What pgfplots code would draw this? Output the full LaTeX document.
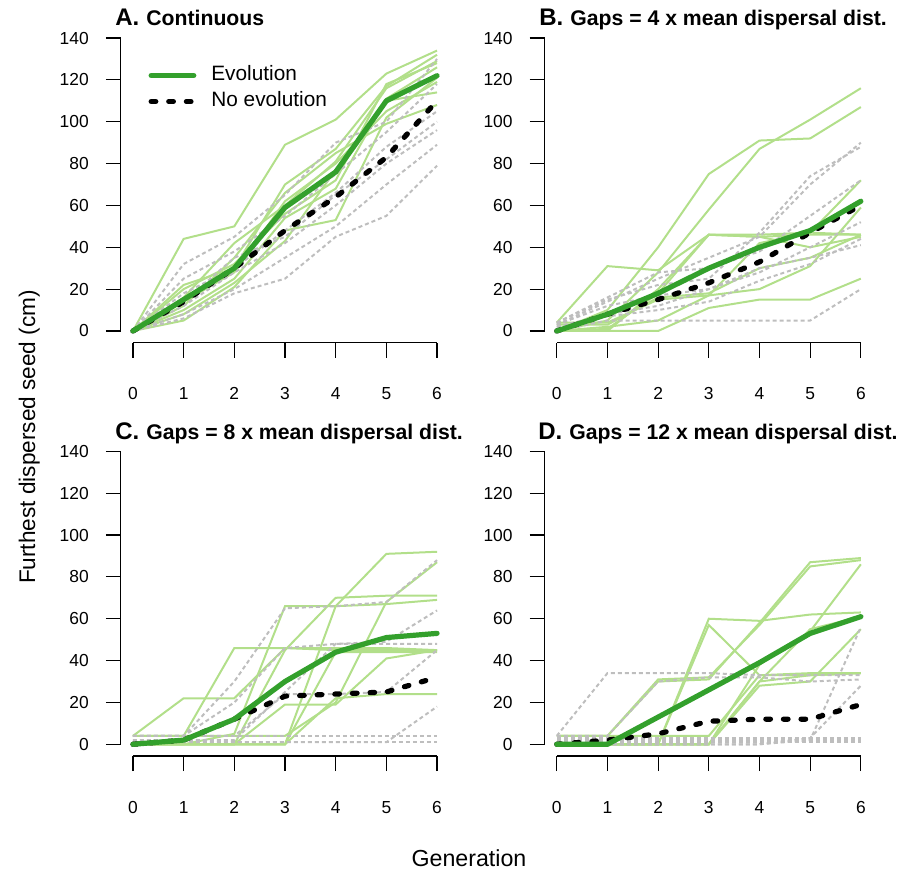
\documentclass[border=0pt]{standalone}
\usepackage{fontspec}
\setmainfont{Liberation Sans}
\usepackage{pgfplots}
\pgfplotsset{compat=1.18}
\usepackage{pgfplotstable}

\definecolor{evogreen}{HTML}{33A02C}
\definecolor{repgreen}{HTML}{B2DF8A}
\definecolor{repgray}{HTML}{BEBEBE}

% columns: generation, 9 evolving replicates, 7 non-evolving replicates, the two means
\pgfplotstableread{
gen g1  g2  g3  g4  g5  g6  g7  g8  g9  d1  d2  d3  d4  d5  d6  d7  evo noevo
0   0   0   0   0   0   0   0   0   0   0   0   0   0   0   0   0   0   0
1   44  22  16  10  5   12  8   20  14  32  25  18  12  8   6   14  15  14
2   50  30  42  25  21  35  23  32  28  45  38  30  28  20  18  35  30  30
3   89  70  60  54  48  66  43  56  62  65  55  48  42  35  25  45  59  48
4   101 87  81  68  53  85  77  72  80  90  75  66  60  50  45  65  76  64
5   123 117 116 111 102 99  110 118 105 100 95  88  80  70  55  82  110 83
6   134 132 129 126 121 108 114 128 119 130 118 105 96  89  79  100 122 110
}\contA

\pgfplotstableread{
gen g1  g2  g3  g4  g5  g6  g7  g8  g9  d1  d2  d3  d4  d5  d6  d7  evo noevo
0   4   0   0   0   4   0   0   3   0   4   3   4   2   0   3   2   0   0
1   31  10  5   0   4   0   2   3   1   15  14  16  8   5   12  7   8   8
2   29  40  28  20  15  0   5   16  18  22  25  28  12  5   17  10  18  15
3   46  75  58  46  17  11  17  18  46  25  35  30  20  5   20  14  30  23
4   45  91  87  46  42  15  20  30  45  47  45  38  30  5   28  24  40  33
5   46  92  101 47  47  15  31  35  40  74  70  55  35  5   40  32  48  47
6   46  107 116 46  72  25  59  46  45  88  90  72  41  20  52  44  62  60
}\gapsB

\pgfplotstableread{
gen g1  g2  g3  g4  g5  g6  g7  g8  g9  d1  d2  d3  d4  d5  d6  d7  evo noevo
0   4   4   0   0   0   0   0   0   4   4   4   4   1   4   1   2   0   0
1   22  4   0   0   0   0   0   0   4   4   4   4   1   4   1   2   2   2
2   22  46  5   0   0   0   0   0   4   30  20  4   1   4   1   2   12  12
3   46  46  66  45  0   0   19  0   4   65  46  24  1   4   1   25  30  23
4   46  45  66  70  44  66  19  22  20  66  48  24  1   4   1   48  44  24
5   46  45  67  71  44  91  41  24  68  68  48  25  1   4   1   49  51  25
6   45  45  69  71  44  92  45  24  87  88  48  45  18  4   1   64  53  32
}\gapsC

\pgfplotstableread{
gen g1  g2  g3  g4  g5  g6  g7  g8  g9  d1  d2  d3  d4  d5  d6  d7  evo noevo
0   4   4   0   0   0   0   4   0   0   4   4   3   1   0   0   2   0   0
1   4   4   0   0   0   0   4   0   0   34  4   3   1   0   0   2   0   2
2   30  31  0   0   0   0   4   0   0   34  30  3   1   0   0   2   13  5
3   31  32  60  57  0   0   4   0   0   34  32  3   1   0   0   2   26  11
4   58  57  59  33  30  28  33  38  30  33  32  3   1   0   0   2   39  12
5   87  85  62  33  55  30  34  54  33  33  30  3   1   2   3   2   53  12
6   89  88  63  34  61  55  34  86  34  33  31  3   1   56  28  2   61  19
}\gapsD

\pgfplotsset{
  panel/.style={
    width=164.2pt, height=158.2pt, scale only axis,
    xmin=-0.24, xmax=6.24, ymin=-5.6, ymax=145.6,
    axis line style={draw=none},
    xtick={0,...,6}, ytick={0,20,...,140},
    xtick pos=left, ytick pos=left,
    tick align=outside, major tick length=7.5pt,
    tick style={black, line width=0.6pt},
    ticklabel style={font=\fontsize{8.7}{10}\selectfont},
    xticklabel style={yshift=-11.5pt},
    yticklabel style={xshift=-5pt},
    /pgf/number format/assume math mode=true,
    clip=false,
  },
  lg/.style={repgreen, line width=1pt},
  gd/.style={repgray, line width=1pt, dash pattern=on 2pt off 1.5pt},
  dg/.style={evogreen, line width=2.6pt, line cap=round, line join=round},
  bk/.style={black, line width=2.6pt, line cap=round, dash pattern=on 2.3pt off 6.5pt},
}

\newcommand{\drawpanel}[1]{%
  \pgfplotsinvokeforeach{1,...,9}{\addplot[lg] table[x=gen, y=g##1] {#1};}
  \pgfplotsinvokeforeach{1,...,7}{\addplot[gd] table[x=gen, y=d##1] {#1};}
  \addplot[bk] table[x=gen, y=noevo] {#1};
  \addplot[dg] table[x=gen, y=evo] {#1};
  \draw[line width=0.6pt] (axis cs:-0.24,0) -- (axis cs:-0.24,140);
  \draw[line width=0.6pt] (axis cs:0,-5.6) -- (axis cs:6,-5.6);
}

\begin{document}
\begin{tikzpicture}
\useasboundingbox (0,0) rectangle (452pt,-435.5pt);

\begin{axis}[panel, at={(60.4pt,-171.35pt)}, anchor=south west,
  legend style={at={(axis cs:0.3,128)}, anchor=north west, draw=none, fill=none,
    inner sep=0pt, row sep=1pt, font=\fontsize{10.4}{12}\selectfont,
    nodes={inner sep=1pt, text height=7.6pt, text depth=2.4pt},
    /tikz/every odd column/.append style={column sep=6.5pt}},
  legend cell align=left,
  legend image code/.code={\draw[#1] (0pt,0pt) -- (21.3pt,0pt);}]
  \addlegendimage{dg}\addlegendentry{Evolution}
  \addlegendimage{bk}\addlegendentry{No evolution}
  \drawpanel{\contA}
\end{axis}

\begin{axis}[panel, at={(272.3pt,-171.35pt)}, anchor=south west]
  \drawpanel{\gapsB}
\end{axis}

\begin{axis}[panel, at={(60.4pt,-378pt)}, anchor=south west]
  \drawpanel{\gapsC}
\end{axis}

\begin{axis}[panel, at={(272.3pt,-378pt)}, anchor=south west]
  \drawpanel{\gapsD}
\end{axis}

\begin{scope}[every node/.style={inner sep=0pt, anchor=base west}]
\node at (57.5pt,-13pt) {\bfseries\fontsize{12}{14}\selectfont A.\hspace{3.5pt}\fontsize{10.6}{12}\selectfont Continuous};
\node at (269.5pt,-13pt) {\bfseries\fontsize{12}{14}\selectfont B.\hspace{3.5pt}\fontsize{10.6}{12}\selectfont Gaps = 4 x mean dispersal dist.};
\node at (57.5pt,-219.5pt) {\bfseries\fontsize{12}{14}\selectfont C.\hspace{3.5pt}\fontsize{10.6}{12}\selectfont Gaps = 8 x mean dispersal dist.};
\node at (269pt,-219.5pt) {\bfseries\fontsize{12}{14}\selectfont D.\hspace{3.5pt}\fontsize{10.6}{12}\selectfont Gaps = 12 x mean dispersal dist.};
\end{scope}

\node[rotate=90, anchor=base] at (17.5pt,-218.5pt) {\fontsize{11.3}{13}\selectfont Furthest dispersed seed (cm)};
\node[anchor=base] at (234.5pt,-433pt) {\fontsize{11.6}{13}\selectfont Generation};
\end{tikzpicture}
\end{document}
